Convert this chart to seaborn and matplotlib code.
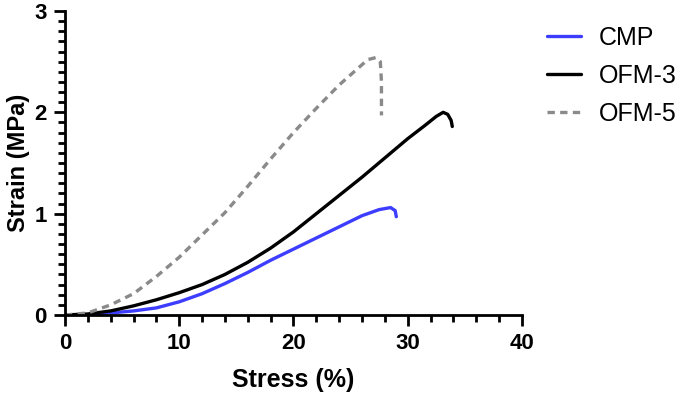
import numpy as np
import pandas as pd
import matplotlib
matplotlib.use('Agg')
import matplotlib.pyplot as plt
from matplotlib.ticker import MultipleLocator
import seaborn as sns

# 曲线数据
cmp_x = [0, 2, 4, 6, 8, 10, 12, 14, 16, 18, 20, 22, 24, 26, 27.5, 28.5, 28.9, 29.0]
cmp_y = [0, 0.0, 0.02, 0.04, 0.07, 0.13, 0.21, 0.31, 0.42, 0.54, 0.65, 0.76, 0.87, 0.98, 1.04, 1.06, 1.03, 0.97]

ofm3_x = [0, 2, 4, 6, 8, 10, 12, 14, 16, 18, 20, 22, 24, 26, 28, 30, 31.5, 32.5, 33.1, 33.5, 33.8, 33.9]
ofm3_y = [0, 0.01, 0.04, 0.09, 0.15, 0.22, 0.3, 0.4, 0.52, 0.66, 0.82, 1.0, 1.18, 1.36, 1.55, 1.74, 1.87, 1.96, 2.0, 1.98, 1.92, 1.86]

ofm5_x = [0, 2, 4, 6, 8, 10, 12, 14, 16, 18, 20, 22, 24, 25.5, 26.5, 27.2, 27.6, 27.7, 27.7]
ofm5_y = [0, 0.02, 0.1, 0.21, 0.38, 0.57, 0.79, 1.01, 1.27, 1.54, 1.8, 2.04, 2.27, 2.42, 2.52, 2.54, 2.5, 2.3, 1.97]

sns.set_style('ticks', {'axes.edgecolor': 'black', 'text.color': 'black',
                        'axes.labelcolor': 'black', 'xtick.color': 'black',
                        'ytick.color': 'black'})
plt.rcParams['font.family'] = ['Liberation Sans', 'DejaVu Sans']

fig = plt.figure(figsize=(6.81, 4.01), dpi=100)
ax = fig.add_axes([0.0954, 0.2145, 0.6711, 0.7581])

series = [
    ('CMP', cmp_x, cmp_y, '#3d3dff', (None, None)),
    ('OFM-3', ofm3_x, ofm3_y, 'black', (None, None)),
    ('OFM-5', ofm5_x, ofm5_y, '#8a8a8a', (2.2, 1.6)),
]
for name, xs, ys, color, dash in series:
    df = pd.DataFrame({'x': xs, 'y': ys})
    line_ax = sns.lineplot(data=df, x='x', y='y', ax=ax, sort=False, estimator=None,
                           color=color, linewidth=2.4, label=name)
    if dash[0] is not None:
        line_ax.lines[-1].set_dashes(dash)

ax.set_xlim(0, 40)
ax.set_ylim(0, 3)
ax.xaxis.set_major_locator(MultipleLocator(10))
ax.xaxis.set_minor_locator(MultipleLocator(2))
ax.yaxis.set_major_locator(MultipleLocator(1))
ax.yaxis.set_minor_locator(MultipleLocator(0.1))

for side in ['top', 'right']:
    ax.spines[side].set_visible(False)
for side in ['left', 'bottom']:
    ax.spines[side].set_linewidth(2)
    ax.spines[side].set_color('black')

ax.tick_params(which='major', direction='out', length=8, width=2, labelsize=16, pad=5,
               color='black', labelcolor='black')
ax.tick_params(which='minor', direction='out', length=5, width=2, color='black')
for lab in ax.get_xticklabels() + ax.get_yticklabels():
    lab.set_fontweight('bold')

ax.set_xlabel('Stress (%)', fontsize=18, fontweight='bold', labelpad=10, color='black')
ax.set_ylabel('Strain (MPa)', fontsize=17, fontweight='bold', labelpad=3, color='black')

ax.legend_.remove()
handles, labels = ax.get_legend_handles_labels()
leg = fig.legend(handles, labels, loc='upper left', bbox_to_anchor=(0.789, 0.96),
                 frameon=False, fontsize=18, handlelength=1.35, labelspacing=0.55,
                 handletextpad=0.72, borderaxespad=0)
for t in leg.get_texts():
    t.set_color('black')

plt.savefig('out.png', dpi=100)
